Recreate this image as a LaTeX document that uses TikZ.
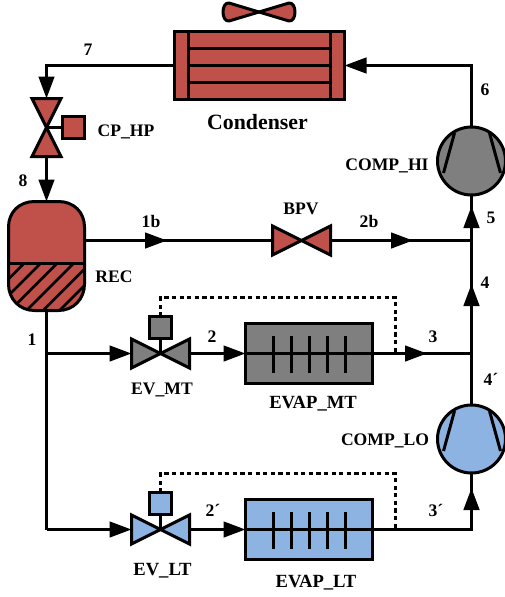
\documentclass[tikz,border=0pt]{standalone}
\usepackage{fontspec}
\setmainfont{Liberation Serif}
\usetikzlibrary{arrows.meta,calc}
\definecolor{hot}{HTML}{C0504A}
\definecolor{mid}{HTML}{7F7F7F}
\definecolor{cold}{HTML}{8DB3E2}
\tikzset{
  pipe/.style={line width=3pt,black},
  flow/.style={pipe,-{Triangle[length=22pt,width=15.5pt]}},
  signal/.style={line width=3pt,dash pattern=on 4.2pt off 3.4pt},
  part/.style={draw=black,line width=3pt,inner sep=0pt,outer sep=0pt},
  slot/.style={inner sep=0pt,outer sep=0pt,minimum width=58pt,minimum height=29pt},
  comp/.style={part,circle,minimum size=68pt,fill=#1},
  evap/.style={part,minimum width=127pt,minimum height=60pt,fill=#1},
  lab/.style={font=\fontsize{17.6}{20}\selectfont\bfseries,inner sep=0pt},
  lablarge/.style={font=\fontsize{18.6}{20}\selectfont\bfseries,inner sep=0pt},
  biglab/.style={font=\fontsize{21.8}{24}\selectfont\bfseries,inner sep=0pt},
  tri/.style={draw=black,line width=3pt,line join=miter,fill=#1},
}
\newcommand{\hvalve}[2]{%
  \filldraw[tri=#2] (#1.center) -- (#1.north west) -- (#1.south west) -- cycle;
  \filldraw[tri=#2] (#1.center) -- (#1.north east) -- (#1.south east) -- cycle;}
\newcommand{\evapticks}[2]{%
  \foreach \tx in {273.5,291.5,309.5,327.5,345.5}
    \draw[line width=3pt] (\tx,#1) -- (\tx,#2);}
\newcommand{\compblades}[1]{%
  \draw[pipe] ($(#1.center)+(-17,-28)$) -- ($(#1.center)+(-28,12)$);
  \draw[pipe] ($(#1.center)+(18,-28)$) -- ($(#1.center)+(29,12)$);}
\begin{document}
\begin{tikzpicture}[x=1pt,y=-1pt]
\useasboundingbox (0,0) rectangle (505,597);
% anchors and components (nodes)
\node[part,fill=hot,minimum width=170pt,minimum height=68pt] (cond) at (259.5,65.5) {};
\node[slot,minimum width=29pt,minimum height=58pt] (cp) at (46.5,127.5) {};
\node[part,fill=hot,minimum size=22pt] (cpbox) at (73.5,127.5) {};
\node[slot,minimum width=76pt,minimum height=109pt] (rec) at (46.5,256) {};
\node[slot] (bpv) at (301.5,240.5) {};
\node[slot] (evm) at (160.5,353.5) {};
\node[slot] (evl) at (160.5,529.5) {};
\node[part,fill=mid,minimum size=22pt] (evmbox) at (160.5,327.5) {};
\node[part,fill=cold,minimum size=22pt] (evlbox) at (160.5,503.5) {};
\node[evap=mid] (em) at (309,353.5) {};
\node[evap=cold] (el) at (309,529.5) {};
\node[comp=mid] (hi) at (471.5,161) {};
\node[comp=cold] (lo) at (471.5,439) {};
% free coordinates
\coordinate (c7) at (46.5,65.5);
\coordinate (c1m) at (46.5,353.5);
\coordinate (c1l) at (46.5,529.5);
\coordinate (c2b) at (471.5,240.5);
\coordinate (c3) at (471.5,353.5);
\coordinate (c6) at (471.5,65.5);
\coordinate (t1b) at (167,240.5);
\coordinate (t2b) at (413,240.5);
\coordinate (t3) at (427,353.5);
\coordinate (t5) at (471.5,206);
\coordinate (t4) at (471.5,284);
\coordinate (tlo) at (471.5,488);
\coordinate (d1m) at (160.5,297.5);
\coordinate (d2m) at (395.5,297.5);
\coordinate (d3m) at (395.5,353.5);
\coordinate (d1l) at (160.5,473.5);
\coordinate (d2l) at (395.5,473.5);
\coordinate (d3l) at (395.5,529.5);
\coordinate (c3l) at (471.5,529.5);
% connectors
\draw[flow] (cond.west) -- (c7) -- (cp.north);
\draw[flow] (cp.south) -- (rec.north);
\draw[pipe] (rec.east |- t1b) -- (bpv.west);
\draw[flow] (rec.east |- t1b) -- (t1b);
\draw[pipe] (bpv.east) -- (c2b);
\draw[flow] (bpv.east) -- (t2b);
\draw[pipe] (rec.south) -- (c1l);
\draw[flow] (c1m) -- (evm.west);
\draw[flow] (c1l) -- (evl.west);
\draw[flow] (evm.east) -- (em.west);
\draw[flow] (evl.east) -- (el.west);
\draw[pipe] (em.east) -- (c3);
\draw[flow] (em.east) -- (t3);
\draw[pipe] (lo.north) -- (c3);
\draw[pipe] (c3) -- (hi.south);
\draw[flow] (c3) -- (t4);
\draw[flow] (c3) -- (t5);
\draw[pipe] (el.east) -- (c3l) -- (lo.south);
\draw[flow] (c3l) -- (tlo);
\draw[flow] (hi.north) -- (c6) -- (cond.east);
\draw[pipe] (cp.center) -- (cpbox.west);
\draw[pipe] (evm.center) -- (evmbox.south);
\draw[pipe] (evl.center) -- (evlbox.south);
\draw[signal] (evmbox.north) -- (d1m) -- (d2m) -- (d3m);
\draw[signal] (evlbox.north) -- (d1l) -- (d2l) -- (d3l);
% condenser
\draw[pipe] (188.5,31.5) -- (188.5,99.5);
\draw[pipe] (330.5,31.5) -- (330.5,99.5);
\foreach \ly in {48.5,65.5,82.5} \draw[pipe] (188.5,\ly) -- (330.5,\ly);
% fan
\filldraw[tri=hot,line join=round] (259,12) -- (229,3) .. controls (221,2) and (221,22) .. (229,21) -- cycle;
\filldraw[tri=hot,line join=round] (259,12) -- (289,3) .. controls (297,2) and (297,22) .. (289,21) -- cycle;
% valves
\filldraw[tri=hot] (cp.center) -- (cp.north west) -- (cp.north east) -- cycle;
\filldraw[tri=hot] (cp.center) -- (cp.south west) -- (cp.south east) -- cycle;
\hvalve{bpv}{hot}
\hvalve{evm}{mid}
\hvalve{evl}{cold}
% receiver
\fill[hot] (8.5,227) .. controls (8.5,212) and (19.5,201.5) .. (34.5,201.5) -- (58.5,201.5) .. controls (73.5,201.5) and (84.5,212) .. (84.5,227) -- (84.5,284) .. controls (84.5,299) and (73.5,310.5) .. (58.5,310.5) -- (34.5,310.5) .. controls (19.5,310.5) and (8.5,299) .. (8.5,284) -- cycle;
\begin{scope}
  \clip (8.5,263.5) -- (84.5,263.5) -- (84.5,284) .. controls (84.5,299) and (73.5,310.5) .. (58.5,310.5) -- (34.5,310.5) .. controls (19.5,310.5) and (8.5,299) .. (8.5,284) -- cycle;
  \foreach \hx in {-44,-27.5,-11,5.5,22,38.5,55,71.5}
    \draw[line width=2.6pt] (\hx,315) -- (\hx+60,255);
\end{scope}
\draw[pipe,line join=round] (8.5,227) .. controls (8.5,212) and (19.5,201.5) .. (34.5,201.5) -- (58.5,201.5) .. controls (73.5,201.5) and (84.5,212) .. (84.5,227) -- (84.5,284) .. controls (84.5,299) and (73.5,310.5) .. (58.5,310.5) -- (34.5,310.5) .. controls (19.5,310.5) and (8.5,299) .. (8.5,284) -- cycle;
\draw[pipe] (8.5,263.5) -- (84.5,263.5);
% evaporator internals
\draw[pipe] (em.west) -- (em.east);
\draw[pipe] (el.west) -- (el.east);
\evapticks{336}{373}
\evapticks{512}{549}
% compressors
\compblades{hi}
\compblades{lo}
% labels
\node[biglab] (lcond) at (257.5,122) {Condenser};
\node[lab] (l7) at (88,50) {7};
\node[lab] (l8) at (23,181) {8};
\node[lab] (lcp) at (126,132) {CP\_HP};
\node[lab] (lrec) at (114,277) {REC};
\node[lab] (l1b) at (151,221) {1b};
\node[lab] (lbpv) at (301,209) {BPV};
\node[lab] (l2b) at (369,221) {2b};
\node[lab] (l6) at (485,90) {6};
\node[lab] (l5) at (491,218) {5};
\node[lab] (l4) at (485,283) {4};
\node[lab] (lhi) at (387,166) {COMP\_HI};
\node[lab] (l3) at (433,337) {3};
\node[lab] (l4p) at (491,379) {4´};
\node[lab] (llo) at (385,441) {COMP\_LO};
\node[lab] (l3p) at (436,510) {3´};
\node[lab] (l2) at (212,337) {2};
\node[lab] (l2p) at (213,510) {2´};
\node[lab] (l1) at (32,340) {1};
\node[lablarge] (lem) at (313,403.5) {EVAP\_MT};
\node[lablarge] (lel) at (316,583) {EVAP\_LT};
\node[lab] (lvm) at (162,390) {EV\_MT};
\node[lablarge] (lvl) at (162.5,571) {EV\_LT};
\end{tikzpicture}
\end{document}
